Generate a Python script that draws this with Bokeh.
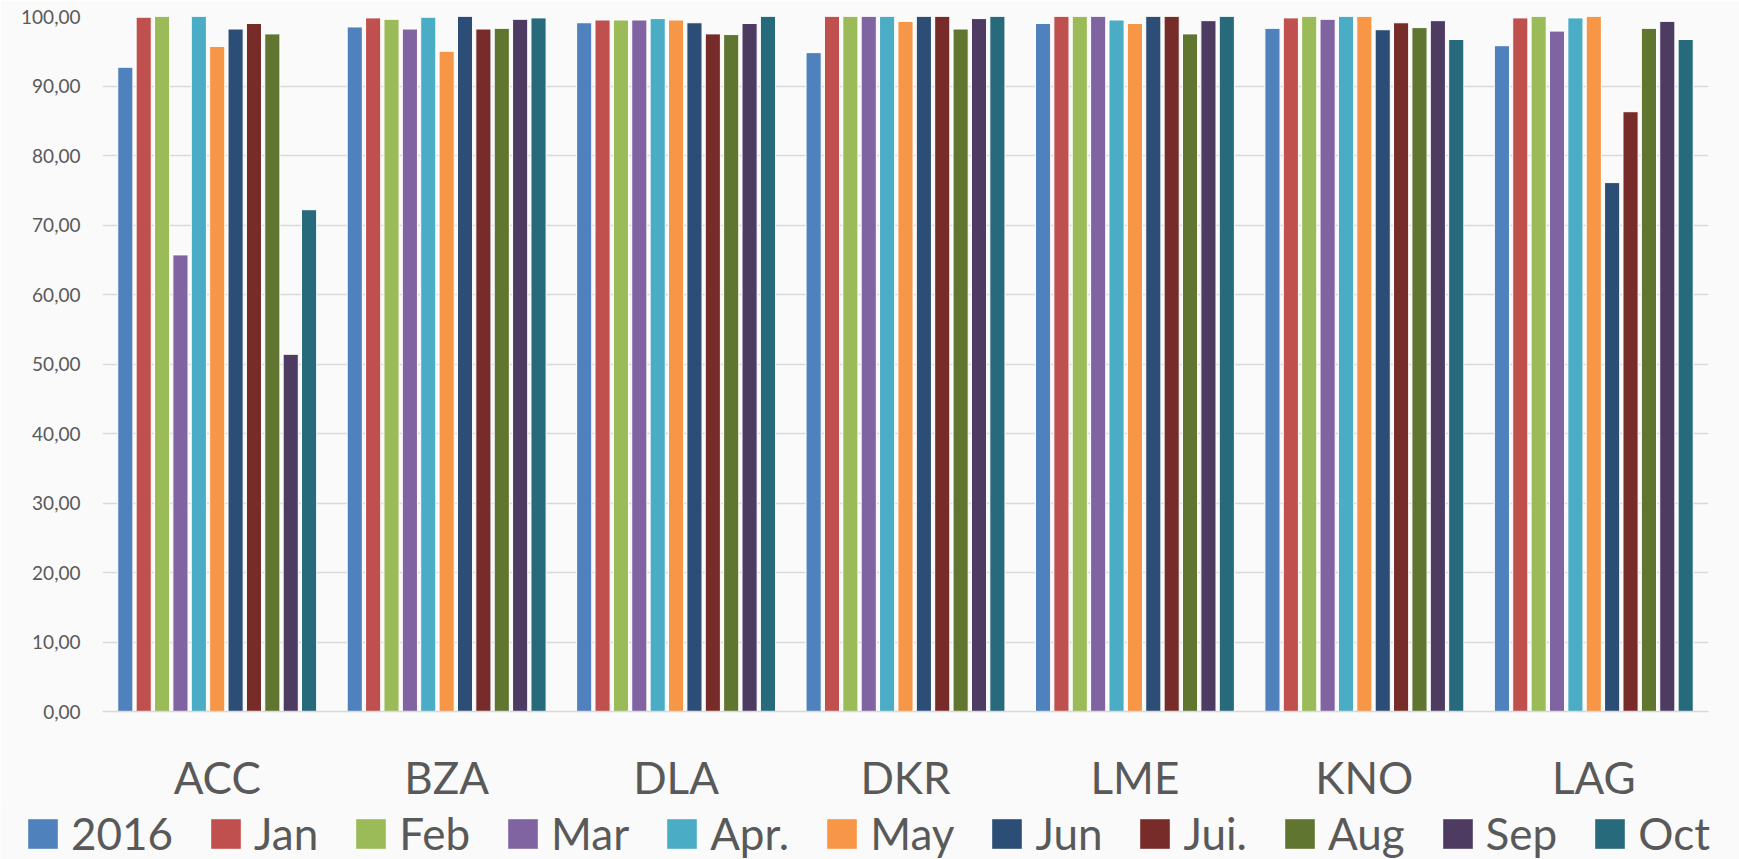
from bokeh.plotting import figure
from bokeh.models import Range1d, FixedTicker, Legend, LegendItem, ColumnDataSource
from bokeh.layouts import column
from bokeh.transform import dodge
from bokeh.embed import file_html
from bokeh.resources import INLINE

categories = ["ACC", "BZA", "DLA", "DKR", "LME", "KNO", "LAG"]
series_names = ["2016", "Jan", "Feb", "Mar", "Apr.", "May", "Jun", "Jui.", "Aug", "Sep", "Oct"]
series_colors = ["#4F81BD", "#C0504D", "#9BBB59", "#8064A2", "#4BACC6", "#F79646",
                 "#2C4D75", "#772C2A", "#5F7530", "#4D3B62", "#276A7C"]

v_2016 = [92.7, 98.5, 99.1, 94.8, 99.0, 98.3, 95.8]
v_jan = [99.9, 99.8, 99.5, 100.0, 100.0, 99.8, 99.8]
v_feb = [100.0, 99.6, 99.5, 100.0, 100.0, 100.0, 100.0]
v_mar = [65.7, 98.2, 99.5, 100.0, 100.0, 99.6, 97.9]
v_apr = [100.0, 99.9, 99.7, 100.0, 99.5, 100.0, 99.8]
v_may = [95.7, 95.0, 99.5, 99.3, 99.0, 100.0, 100.0]
v_jun = [98.2, 100.0, 99.1, 100.0, 100.0, 98.1, 76.1]
v_jui = [99.0, 98.2, 97.5, 100.0, 100.0, 99.1, 86.3]
v_aug = [97.5, 98.3, 97.4, 98.2, 97.5, 98.4, 98.3]
v_sep = [51.4, 99.6, 99.0, 99.7, 99.4, 99.4, 99.3]
v_oct = [72.2, 99.8, 100.0, 100.0, 100.0, 96.7, 96.7]

series_values = [v_2016, v_jan, v_feb, v_mar, v_apr, v_may, v_jun, v_jui, v_aug, v_sep, v_oct]

y_tick_values = [0, 10, 20, 30, 40, 50, 60, 70, 80, 90, 100]
y_tick_labels = ["0,00", "10,00", "20,00", "30,00", "40,00", "50,00",
                 "60,00", "70,00", "80,00", "90,00", "100,00"]

FONT = "Lato"
TEXT = "#595959"
BG = "#fafafa"
W = 1739
H_MAIN = 805
H_LEG = 54

data = {"cat": categories}
for i, vals in enumerate(series_values):
    data["s%d" % i] = vals
source = ColumnDataSource(data)

p = figure(x_range=categories, y_range=Range1d(0, 100), width=W, height=H_MAIN,
           output_backend="svg", toolbar_location=None,
           min_border_left=102, min_border_right=31, min_border_top=16, min_border_bottom=93)
p.frame_align = False

p.background_fill_color = BG
p.border_fill_color = BG
p.outline_line_color = None

pitch = 0.0801
for i, name in enumerate(series_names):
    p.vbar(x=dodge("cat", (i - 5) * pitch, range=p.x_range), top="s%d" % i, width=0.066,
           source=source, fill_color=series_colors[i], line_color="white", line_width=1)

p.xgrid.grid_line_color = None
p.ygrid.grid_line_color = "#d9d9d9"
p.ygrid.grid_line_width = 1.5
p.yaxis.ticker = FixedTicker(ticks=y_tick_values)
p.yaxis.major_label_overrides = {v: l for v, l in zip(y_tick_values, y_tick_labels)}
p.yaxis.axis_line_color = None
p.yaxis.major_tick_line_color = None
p.yaxis.minor_tick_line_color = None
p.yaxis.major_label_standoff = 16
p.yaxis.major_label_text_font = FONT
p.yaxis.major_label_text_font_size = "19px"
p.yaxis.major_label_text_color = TEXT

p.xaxis.axis_line_color = "#d9d9d9"
p.xaxis.axis_line_width = 1.5
p.xaxis.major_tick_line_color = None
p.xaxis.minor_tick_line_color = None
p.xaxis.major_label_standoff = 33
p.xaxis.major_label_text_font = FONT
p.xaxis.major_label_text_font_size = "44px"
p.xaxis.major_label_text_color = TEXT

# legend strip (swatches only, no data drawn)
lg = figure(width=W, height=H_LEG, x_range=Range1d(0, 1), y_range=Range1d(0, 1),
            output_backend="svg", toolbar_location=None,
            min_border_left=0, min_border_right=0, min_border_top=0, min_border_bottom=0)
lg.frame_align = False
lg.background_fill_color = BG
lg.border_fill_color = BG
lg.outline_line_color = None
lg.axis.visible = False
lg.grid.visible = False

items = []
for i, name in enumerate(series_names):
    r = lg.vbar(x=[0.5], top=[float("nan")], width=0.01, fill_color=series_colors[i],
                line_color=None)
    items.append(LegendItem(label=name, renderers=[r]))

legend = Legend(items=items, orientation="horizontal", location=(24, 0),
                glyph_width=37, glyph_height=37, label_standoff=10, spacing=34,
                padding=0, margin=0, border_line_color=None, background_fill_alpha=0,
                label_text_font=FONT, label_text_font_size="44px", label_text_color=TEXT)
lg.add_layout(legend, "center")

layout = column(p, lg, spacing=0)
open("out.html", "w").write(file_html(layout, INLINE))
